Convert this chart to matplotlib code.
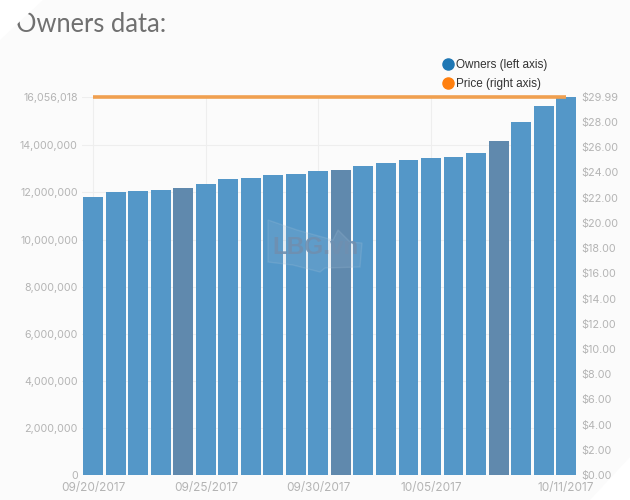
import matplotlib
matplotlib.use("Agg")
import matplotlib.pyplot as plt
from matplotlib.lines import Line2D
from matplotlib.patches import Polygon

dates = ["09/20/2017", "09/21/2017", "09/22/2017", "09/23/2017", "09/24/2017", "09/25/2017",
         "09/26/2017", "09/27/2017", "09/28/2017", "09/29/2017", "09/30/2017", "10/01/2017",
         "10/02/2017", "10/03/2017", "10/04/2017", "10/05/2017", "10/06/2017", "10/07/2017",
         "10/08/2017", "10/09/2017", "10/10/2017", "10/11/2017"]
owners = [11820000, 12030000, 12080000, 12110000, 12190000, 12360000, 12560000, 12630000,
          12740000, 12770000, 12900000, 12960000, 13110000, 13240000, 13390000, 13450000,
          13520000, 13660000, 14190000, 14980000, 15670000, 16056018]
price = [29.99] * 22
left_ticks = [0, 2000000, 4000000, 6000000, 8000000, 10000000, 12000000, 14000000, 16056018]
right_ticks = [0, 2, 4, 6, 8, 10, 12, 14, 16, 18, 20, 22, 24, 26, 28, 29.99]
x_tick_idx = [0, 5, 10, 15, 21]
shaded_idx = [4, 11, 18]

W, H = 630, 500
BG = "#fbfbfb"
TICK = "#b4b4b4"
fig = plt.figure(figsize=(6.3, 5.0), dpi=100, facecolor=BG)
ax = fig.add_axes([82 / W, 1 - 475 / H, (576 - 82) / W, (475 - 97) / H])
ax.set_facecolor("none")
ax.set_xlim(-0.5, 21.44)
ax.set_ylim(0, 16056018)
colors = ["#6089ad" if i in shaded_idx else "#5497c8" for i in range(len(owners))]
ax.bar(range(len(owners)), owners, width=0.885, color=colors, zorder=2)
ax.set_axisbelow(True)
ax.set_yticks(left_ticks)
ax.set_yticklabels([f"{v:,}" for v in left_ticks])
ax.set_xticks(x_tick_idx)
ax.set_xticklabels([dates[i] for i in x_tick_idx])
ax.grid(True, color="#eeeeee", lw=0.8)
for s in ax.spines.values():
    s.set_visible(False)
ax.tick_params(axis="y", length=0, pad=3, labelsize=7.7, labelcolor=TICK, labelfontfamily="Inter")
ax.tick_params(axis="x", length=0, pad=5, labelsize=8.5, labelcolor=TICK, labelfontfamily="Inter")

ax2 = ax.twinx()
ax2.set_ylim(0, 29.99)
ax2.plot(range(len(price)), price, color="#f0a050", lw=2.6, solid_capstyle="butt", clip_on=False, zorder=3)
ax2.set_yticks(right_ticks)
ax2.set_yticklabels([f"${v:.2f}" for v in right_ticks])
ax2.tick_params(axis="y", length=0, pad=4, labelsize=7.8, labelcolor=TICK, labelfontfamily="Inter")
for s in ax2.spines.values():
    s.set_visible(False)

handles = [Line2D([], [], ls="", marker="o", ms=8, color="#1f77b4"),
           Line2D([], [], ls="", marker="o", ms=8, color="#ff7f0e")]
fig.legend(handles, ["Owners (left axis)", "Price (right axis)"], loc="upper left",
           bbox_to_anchor=(439 / W, 1 - 59 / H), bbox_transform=fig.transFigure, frameon=False,
           prop={"family": "Liberation Sans", "size": 8.5}, labelcolor="#333333",
           labelspacing=0.6, handletextpad=0.0, borderpad=0, borderaxespad=0, handlelength=1.45)

fig.text(16 / W, 1 - 25 / H, "Owners data:", fontsize=18.4, family="Lato",
         color="#707070", ha="left", va="center")

# faint site watermark
fig.add_artist(Polygon([(268 / W, 1 - 220 / H), (297 / W, 1 - 230 / H), (333 / W, 1 - 240 / H),
                        (338 / W, 1 - 230 / H), (350 / W, 1 - 242 / H), (362 / W, 1 - 243 / H),
                        (360 / W, 1 - 267 / H), (325 / W, 1 - 268 / H), (320 / W, 1 - 272 / H),
                        (293 / W, 1 - 265 / H), (268 / W, 1 - 262 / H)], closed=True,
                       transform=fig.transFigure, facecolor="#8fb4d2", edgecolor="#a9c4da",
                       alpha=0.2, lw=1, zorder=5))
fig.text(315 / W, 1 - 248 / H, "LBG.vn", fontsize=17.5, family="Liberation Sans", fontweight="bold",
         color="#6f8fb0", alpha=0.9, ha="center", va="center", zorder=6)

# lighter cut corners of the screenshot
fig.add_artist(Polygon([(0, 1), (43 / W, 1), (0, 1 - 40 / H)], closed=True, transform=fig.transFigure,
                       facecolor="#ffffff", edgecolor="none", zorder=10))
fig.add_artist(Polygon([(1, 0), (1, 43 / H), (590 / W, 0)], closed=True, transform=fig.transFigure,
                       facecolor="#ffffff", edgecolor="none", zorder=10))
fig.savefig("out.png", dpi=100, facecolor=BG)
